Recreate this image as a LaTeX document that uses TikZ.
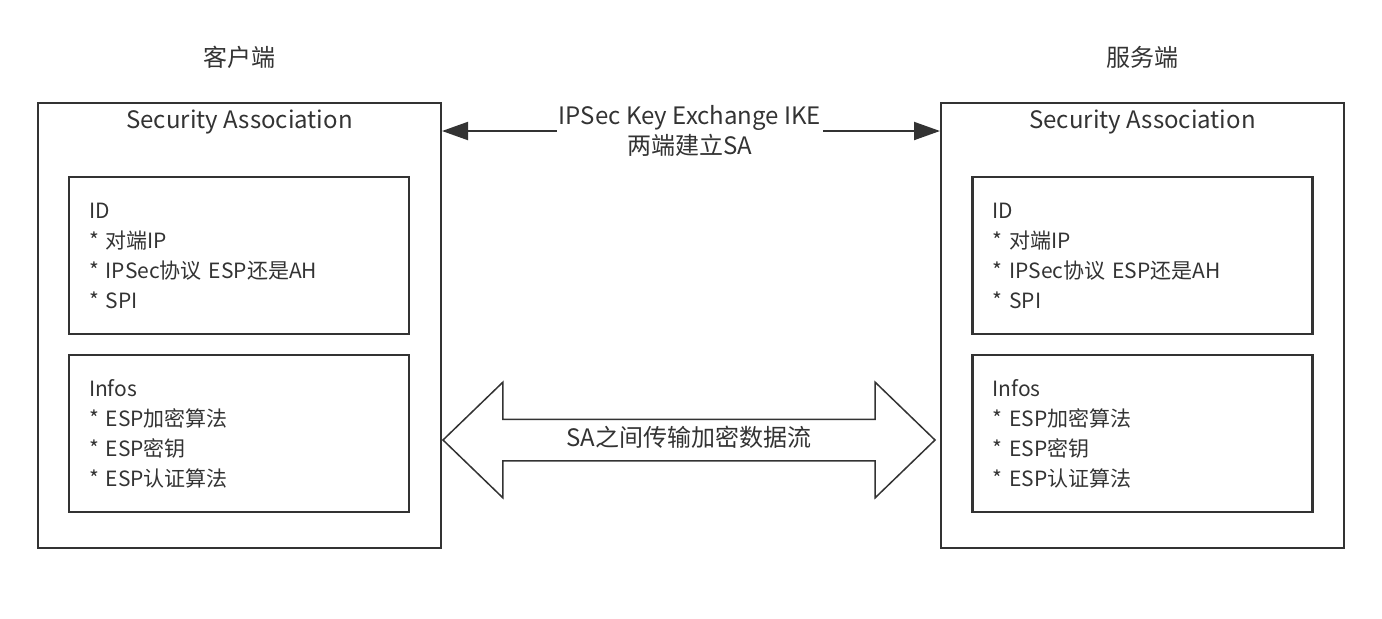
\documentclass[tikz,border=0pt]{standalone}
\usepackage{fontspec}
\setmainfont{Noto Sans CJK SC}
\usetikzlibrary{shapes.arrows, arrows.meta, positioning}
\definecolor{linegray}{HTML}{333333}

\begin{document}
\begin{tikzpicture}[x=0.5pt, y=-0.5pt, font=\fontsize{12}{15}\selectfont, text=linegray,
						outer_box/.style = {rectangle, draw=linegray, line width=1pt,
										minimum width=201.5pt, minimum height=222.5pt, inner sep=0pt},
						inner_box/.style = {rectangle, draw=linegray, line width=1.1pt, align=left,
										minimum height=78.5pt, text width=150pt, inner xsep=10pt,
										font=\fontsize{10.5}{15}\selectfont},
						line/.style = {-{Triangle[length=13pt, width=9pt]}, draw=linegray, line width=1pt}
						]
						\useasboundingbox (0,0) rectangle (1382,618);

						% --- Cliente ---
						\node[outer_box] (cl_sa) at (239.5,325.5) {};
						\node[above=13pt of cl_sa] (cl_title) {客户端};
						\node[anchor=north, yshift=-0.5pt] (cl_sa_title) at (cl_sa.north) {Security Association};
						\node[inner_box] (cl_id) at (239,255.5) {ID \\ {*} 对端IP \\ {*} IPSec协议 ESP还是AH \\ {*} SPI};
						\node[inner_box] (cl_info) at (239,433.5) {Infos \\ {*} ESP加密算法 \\ {*} ESP密钥 \\ {*} ESP认证算法};

						% --- Servidor ---
						\node[outer_box] (sv_sa) at (1142.5,325.5) {};
						\node[above=13pt of sv_sa] (sv_title) {服务端};
						\node[anchor=north, yshift=-0.5pt] (sv_sa_title) at (sv_sa.north) {Security Association};
						\node[inner_box] (sv_id) at (1142.5,255.5) {ID \\ {*} 对端IP \\ {*} IPSec协议 ESP还是AH \\ {*} SPI};
						\node[inner_box] (sv_info) at (1142.5,433.5) {Infos \\ {*} ESP加密算法 \\ {*} ESP密钥 \\ {*} ESP认证算法};

						% --- IKE ---
						\node[align=center, inner xsep=1pt] (ike) at (690,131) {IPSec Key Exchange IKE \\ 两端建立SA};
						\draw[line] (ike.west) -- (ike.west -| cl_sa.east);
						\draw[line] (ike.east) -- (ike.east -| sv_sa.west);

						% --- Flujo de datos ---
						\node[double arrow, draw=linegray, line width=0.75pt, minimum height=246pt,
							  double arrow head extend=18.5pt, double arrow tip angle=88,
							  inner xsep=0pt, inner ysep=4.5pt, text height=8.5pt, text depth=2.5pt] (flow) at (689,440) {SA之间传输加密数据流};

					\end{tikzpicture}
\end{document}
